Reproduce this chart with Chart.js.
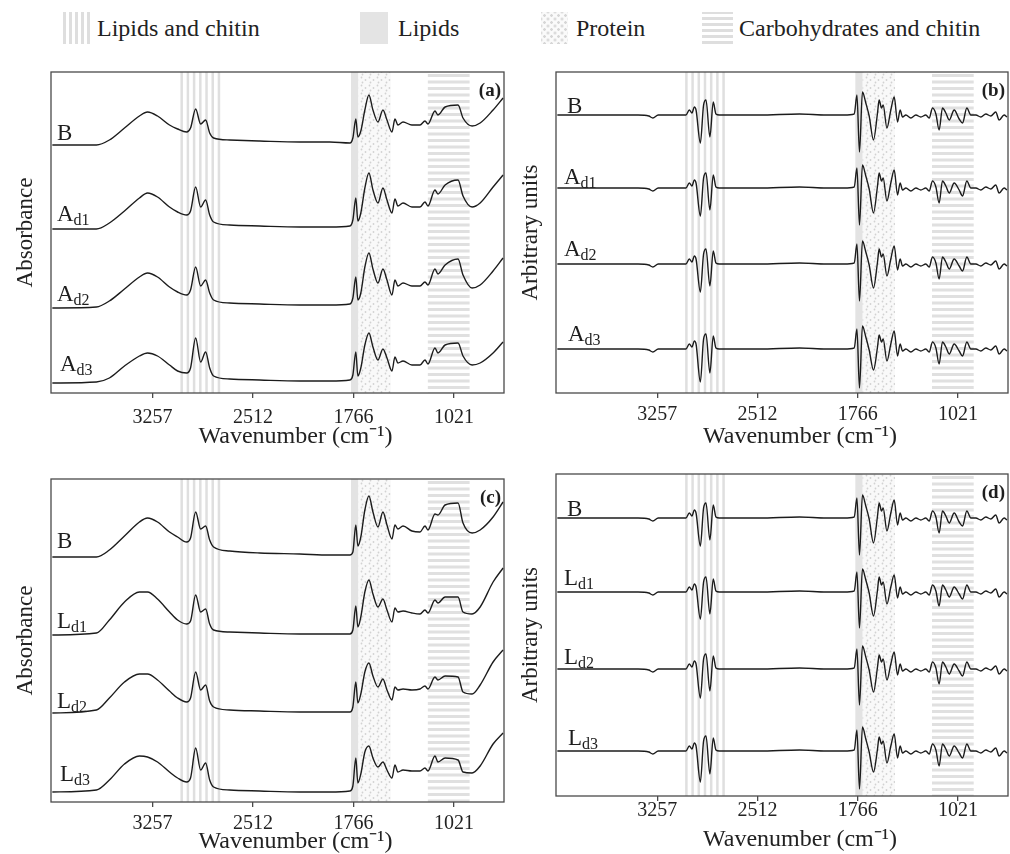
<!DOCTYPE html>
<html>
<head>
<meta charset="utf-8">
<script src="https://cdn.jsdelivr.net/npm/chart.js@4.4.1/dist/chart.umd.min.js"></script>
<style>
  body { margin: 0; background: #fff; width: 1010px; height: 854px; position: relative; overflow: hidden; font-family: "Liberation Serif", serif; color: #222; }
  canvas { position: absolute; }
  .icon { position: absolute; top: 12px; height: 32px; }
  .ltext { position: absolute; top: 14px; font-size: 24px; line-height: 28px; white-space: nowrap; }
  .vstripes { background: repeating-linear-gradient(90deg, #dedede 0 3px, #fff 3px 6px); }
  .solid { background: #e4e4e4; }
  .dots { background-color: #fafafa; background-image: radial-gradient(#d6d6d6 1px, transparent 1.6px), radial-gradient(#d6d6d6 1px, transparent 1.6px); background-size: 7px 7px; background-position: 0 0, 3.5px 3.5px; }
  .hstripes { background: repeating-linear-gradient(0deg, #dedede 0 3px, #fff 3px 6px); }
</style>
</head>
<body>
<div class="icon vstripes" style="left:63px;width:28px"></div>
<div class="ltext" style="left:97px">Lipids and chitin</div>
<div class="icon solid" style="left:360px;width:28px"></div>
<div class="ltext" style="left:398px">Lipids</div>
<div class="icon dots" style="left:541px;width:27px"></div>
<div class="ltext" style="left:576px">Protein</div>
<div class="icon hstripes" style="left:702px;width:31px"></div>
<div class="ltext" style="left:739px">Carbohydrates and chitin</div>

<canvas id="chartA" width="510" height="390" style="left:0;top:60px"></canvas>
<canvas id="chartB" width="505" height="390" style="left:505px;top:60px"></canvas>
<canvas id="chartC" width="510" height="404" style="left:0;top:450px"></canvas>
<canvas id="chartD" width="505" height="404" style="left:505px;top:450px"></canvas>

<script>
// x axis
const tickValues = [3257, 2512, 1766, 1021];
const xTitle = 'Wavenumber (cm\u207B\u00B9)';

// highlighted regions (cm-1)
const bandLipidChitin = [3050, 2755];
const bandLipids = [1785, 1730];
const bandProtein = [1730, 1490];
const bandCarbChitin = [1215, 905];

// absorbance spectra, stacked (panels a and c)
const absWavenumbers = [4000, 3673, 3577, 3465, 3354, 3294, 3220, 3131, 3071, 3004, 2975, 2937, 2900, 2863, 2833, 2804, 2685, 2462, 2165, 1942, 1793, 1771, 1749, 1734, 1712, 1682, 1652, 1622, 1585, 1548, 1518, 1481, 1459, 1437, 1399, 1333, 1273, 1236, 1214, 1162, 1140, 1087, 991, 954, 887, 827, 731, 657];

const absB_a  = [248, 248, 253, 265, 277, 281, 277, 268, 264, 261, 265, 284, 269, 273, 260, 255, 253, 252, 251, 251, 250, 255, 274, 256, 262, 283, 298, 283, 271, 283, 273, 261, 274, 268, 271, 268, 268, 272, 269, 282, 278, 286, 288, 275, 267, 270, 283, 295];
const absAd1 = [164, 164, 170, 182, 195, 200, 196, 186, 181, 178, 182, 206, 186, 193, 178, 171, 168, 167, 166, 166, 167, 173, 195, 172, 180, 205, 220, 203, 190, 205, 193, 180, 194, 187, 190, 186, 186, 191, 187, 203, 199, 208, 213, 197, 186, 190, 206, 218];
const absAd2 = [85, 86, 92, 104, 116, 120, 116, 106, 101, 98, 103, 126, 107, 113, 100, 93, 90, 89, 88, 88, 89, 95, 116, 93, 100, 126, 140, 124, 110, 124, 113, 98, 113, 107, 110, 107, 107, 111, 108, 124, 119, 128, 134, 118, 105, 108, 122, 135];
const absAd3 = [10, 11, 15, 27, 37, 40, 37, 28, 22, 20, 25, 55, 31, 41, 25, 17, 14, 13, 12, 12, 13, 18, 41, 17, 25, 48, 60, 46, 33, 44, 35, 22, 36, 30, 32, 28, 28, 33, 29, 45, 40, 48, 50, 37, 28, 30, 40, 51];

const absB_c  = [245, 245, 252, 266, 280, 284, 280, 270, 265, 260, 264, 290, 273, 276, 262, 255, 251, 249, 248, 247, 247, 250, 277, 256, 265, 292, 306, 290, 275, 290, 277, 263, 277, 273, 276, 271, 270, 276, 272, 288, 287, 297, 299, 279, 269, 272, 285, 300];
const absLd1 = [167, 169, 182, 200, 210, 210, 203, 190, 182, 178, 181, 207, 190, 193, 178, 172, 170, 169, 168, 168, 168, 172, 196, 175, 185, 210, 222, 208, 195, 203, 192, 180, 194, 190, 191, 189, 188, 192, 189, 202, 199, 205, 205, 190, 188, 195, 220, 234];
const absLd2 = [89, 92, 104, 120, 128, 128, 122, 111, 104, 100, 104, 130, 112, 117, 101, 95, 92, 91, 90, 90, 90, 95, 120, 99, 108, 130, 139, 126, 115, 123, 112, 102, 115, 112, 113, 112, 113, 116, 113, 125, 122, 126, 125, 110, 108, 117, 140, 152];
const absLd3 = [10, 12, 22, 38, 46, 45, 40, 30, 24, 20, 24, 54, 32, 39, 22, 15, 12, 11, 10, 10, 11, 16, 44, 19, 28, 50, 56, 44, 35, 40, 32, 24, 37, 30, 32, 31, 31, 34, 31, 46, 40, 44, 42, 30, 29, 36, 58, 69];

// second derivative spectra, stacked (panels b and d)
const derivWavenumbers = [4000, 3700, 3400, 3320, 3290, 3250, 3100, 3044, 3019, 2999, 2982, 2969, 2937, 2913, 2895, 2866, 2841, 2821, 2796, 2500, 2200, 2000, 1868, 1793, 1773, 1754, 1732, 1707, 1682, 1650, 1620, 1608, 1590, 1578, 1550, 1521, 1496, 1471, 1452, 1434, 1409, 1372, 1335, 1298, 1261, 1236, 1211, 1186, 1162, 1137, 1112, 1087, 1050, 1013, 988, 956, 926, 889, 852, 815, 778, 741, 716, 679, 657];

const derivB   = [278, 278, 278, 277, 275, 278, 278, 278, 283, 280, 286, 283, 250, 288, 293, 256, 291, 279, 278, 278, 279, 278, 278, 279, 298, 241, 301, 290, 277, 253, 280, 293, 285, 288, 265, 283, 296, 271, 283, 276, 278, 275, 278, 276, 278, 275, 285, 279, 263, 285, 280, 273, 283, 274, 270, 285, 278, 278, 276, 279, 277, 281, 273, 278, 276];
const derivAd1 = [205, 205, 205, 204, 202, 205, 205, 205, 210, 207, 213, 210, 177, 215, 220, 183, 218, 206, 205, 205, 206, 205, 205, 206, 225, 168, 228, 217, 204, 180, 207, 220, 212, 215, 192, 210, 223, 198, 210, 203, 205, 202, 205, 203, 205, 202, 212, 206, 190, 212, 207, 200, 210, 203, 197, 212, 205, 205, 203, 206, 204, 208, 200, 205, 203];
const derivAd2 = [129, 129, 129, 128, 126, 129, 129, 129, 134, 131, 137, 134, 101, 139, 144, 107, 142, 130, 129, 129, 130, 129, 129, 130, 149, 92, 152, 141, 128, 105, 131, 144, 136, 139, 117, 134, 147, 123, 134, 127, 129, 126, 129, 127, 129, 126, 136, 130, 114, 136, 131, 124, 134, 127, 122, 136, 129, 129, 127, 130, 128, 132, 124, 129, 127];
const derivAd3 = [44, 44, 44, 43, 41, 44, 44, 44, 49, 46, 52, 49, 11, 54, 59, 20, 57, 45, 44, 44, 45, 44, 44, 45, 64, 5, 67, 56, 43, 23, 46, 58, 51, 54, 32, 49, 62, 37, 49, 42, 44, 41, 44, 42, 44, 41, 51, 45, 29, 51, 46, 39, 49, 42, 37, 51, 44, 44, 42, 45, 43, 47, 39, 44, 42];
const derivLd1 = [204, 204, 204, 203, 201, 204, 204, 204, 209, 206, 212, 209, 177, 214, 219, 182, 217, 205, 204, 204, 205, 204, 204, 205, 224, 168, 227, 216, 203, 180, 206, 219, 211, 214, 192, 209, 221, 198, 209, 202, 204, 201, 204, 202, 204, 201, 211, 205, 190, 211, 206, 199, 209, 202, 197, 211, 204, 204, 202, 205, 203, 207, 199, 204, 202];
const derivLd2 = [127, 127, 127, 126, 124, 127, 127, 127, 132, 129, 135, 132, 98, 137, 142, 105, 140, 128, 127, 127, 128, 127, 127, 128, 147, 91, 150, 139, 126, 104, 129, 141, 134, 137, 116, 132, 144, 121, 132, 125, 127, 124, 127, 125, 127, 124, 134, 128, 112, 134, 129, 122, 132, 125, 120, 134, 127, 127, 125, 128, 126, 130, 122, 127, 125];
const derivLd3 = [45, 45, 45, 44, 42, 45, 45, 45, 50, 47, 53, 50, 14, 55, 60, 22, 58, 46, 45, 45, 46, 45, 45, 46, 66, 7, 69, 57, 44, 24, 47, 59, 52, 55, 33, 50, 62, 38, 50, 43, 45, 42, 45, 43, 45, 42, 52, 46, 30, 52, 47, 40, 50, 43, 38, 52, 45, 45, 43, 46, 44, 48, 40, 45, 43];

// sample names
const namesA = ['B', 'A', 'A', 'A'];
const namesL = ['B', 'L', 'L', 'L'];
const subs = ['', 'd1', 'd2', 'd3'];

Chart.defaults.font.family = '"Liberation Serif", serif';
Chart.defaults.color = '#222';

function dotPattern(ctx) {
    const c = document.createElement('canvas');
    c.width = 8; c.height = 8;
    const g = c.getContext('2d');
    g.fillStyle = '#f9f9f9';
    g.fillRect(0, 0, 8, 8);
    g.fillStyle = '#d2d2d2';
    [[1.5, 1.5], [5.5, 4], [2.5, 6.5]].forEach(p => {
        g.beginPath(); g.arc(p[0], p[1], 0.9, 0, Math.PI * 2); g.fill();
    });
    return ctx.createPattern(c, 'repeat');
}

const bandsPlugin = {
    id: 'bands',
    beforeDatasetsDraw(chart) {
        const {ctx, chartArea: a, scales: {x}} = chart;
        ctx.save();
        ctx.beginPath();
        ctx.rect(a.left, a.top, a.width, a.height);
        ctx.clip();

        // lipids and chitin: vertical stripes
        let x0 = x.getPixelForValue(bandLipidChitin[0]);
        let x1 = x.getPixelForValue(bandLipidChitin[1]);
        ctx.fillStyle = '#dfdfdf';
        for (let i = 0; i < 7; i++) {
            ctx.fillRect(x0 + i * (x1 - x0 - 2.5) / 6, a.top, 2.5, a.height);
        }

        // lipids: solid
        x0 = x.getPixelForValue(bandLipids[0]);
        x1 = x.getPixelForValue(bandLipids[1]);
        ctx.fillStyle = '#e3e3e3';
        ctx.fillRect(x0, a.top, x1 - x0, a.height);

        // protein: dots
        x0 = x.getPixelForValue(bandProtein[0]);
        x1 = x.getPixelForValue(bandProtein[1]);
        ctx.fillStyle = dotPattern(ctx);
        ctx.fillRect(x0, a.top, x1 - x0, a.height);

        // carbohydrates and chitin: horizontal stripes
        x0 = x.getPixelForValue(bandCarbChitin[0]);
        x1 = x.getPixelForValue(bandCarbChitin[1]);
        ctx.fillStyle = '#e0e0e0';
        for (let y = a.top + 2; y < a.bottom; y += 6.5) {
            ctx.fillRect(x0, y, x1 - x0, 3);
        }
        ctx.restore();
    }
};

const labelsPlugin = {
    id: 'sampleLabels',
    afterDatasetsDraw(chart, args, opts) {
        const {ctx, chartArea: a, scales: {y}} = chart;
        ctx.save();
        ctx.fillStyle = '#1e1e1e';
        ctx.textBaseline = 'alphabetic';
        opts.names.forEach((name, i) => {
            const px = a.left + opts.dx[i];
            const py = y.getPixelForValue(chart.data.datasets[i].data[0].y) - opts.lift[i] + 7.5;
            ctx.textAlign = 'left';
            ctx.font = '23px "Liberation Serif"';
            ctx.fillText(name, px, py);
            if (subs[i]) {
                const w = ctx.measureText(name).width;
                ctx.font = '16px "Liberation Serif"';
                ctx.fillText(subs[i], px + w, py + 4);
            }
        });
        // panel letter
        ctx.textBaseline = 'middle';
        ctx.font = 'bold 19px "Liberation Serif"';
        ctx.textAlign = 'right';
        ctx.fillText(opts.letter, a.right - 3, a.top + 19);
        // x axis title, set a little right of centre as in the source figure
        ctx.font = '24px "Liberation Serif"';
        ctx.textAlign = 'center';
        ctx.fillStyle = '#222';
        ctx.fillText(xTitle, (a.left + a.right) / 2 + 18, a.bottom + opts.titleGap);
        ctx.restore();
    }
};

const framePlugin = {
    id: 'frame',
    afterDraw(chart) {
        const {ctx, chartArea: a} = chart;
        ctx.save();
        ctx.strokeStyle = '#4a4a4a';
        ctx.lineWidth = 1.3;
        ctx.strokeRect(a.left, a.top, a.width, a.height);
        ctx.restore();
    }
};

function buildChart(id, cfg) {
    const datasets = cfg.series.map(s => ({
        data: cfg.xs.map((v, i) => ({x: v, y: s[i]})),
        borderColor: '#1c1c1c',
        borderWidth: 1.4,
        pointRadius: 0,
        fill: false,
        cubicInterpolationMode: 'monotone'
    }));
    return new Chart(document.getElementById(id), {
        type: 'line',
        data: {datasets: datasets},
        options: {
            responsive: false,
            animation: false,
            layout: {padding: cfg.padding},
            scales: {
                x: {
                    type: 'linear',
                    reverse: true,
                    min: 650,
                    max: 4010,
                    grid: {display: true, drawOnChartArea: false, drawTicks: true, tickLength: 5, color: '#4a4a4a', lineWidth: 1.3},
                    border: {display: false},
                    afterBuildTicks: s => { s.ticks = tickValues.map(v => ({value: v})); },
                    afterFit: s => { s.height = cfg.xHeight; },
                    ticks: {
                        padding: cfg.tickPad,
                        font: {size: 20},
                        color: '#222',
                        autoSkip: false,
                        maxRotation: 0,
                        callback: v => String(v)
                    },
                    title: {display: false}
                },
                y: {
                    min: 0,
                    max: cfg.yMax,
                    grid: {display: false, drawTicks: false},
                    border: {display: false},
                    ticks: {display: false},
                    afterFit: s => { s.width = 51; },
                    title: {
                        display: true,
                        text: cfg.yTitle,
                        font: {size: 23},
                        color: '#222',
                        padding: {top: 12, bottom: 0}
                    }
                }
            },
            plugins: {
                legend: {display: false},
                tooltip: {enabled: false},
                sampleLabels: {names: cfg.names, dx: cfg.dx, lift: cfg.lift, letter: cfg.letter, titleGap: cfg.titleGap}
            }
        },
        plugins: [bandsPlugin, labelsPlugin, framePlugin]
    });
}

buildChart('chartA', {
    xs: absWavenumbers, series: [absB_a, absAd1, absAd2, absAd3],
    padding: {top: 12, right: 6, left: 0, bottom: 0}, xHeight: 57, tickPad: 8, yMax: 321, titleGap: 44,
    yTitle: 'Absorbance', names: namesA, dx: [6, 6, 6, 9], lift: [13, 16, 15, 20], letter: '(a)'
});
buildChart('chartB', {
    xs: derivWavenumbers, series: [derivB, derivAd1, derivAd2, derivAd3],
    padding: {top: 12, right: 2, left: 0, bottom: 0}, xHeight: 57, tickPad: 5, yMax: 321, titleGap: 44,
    yTitle: 'Arbitrary units', names: namesA, dx: [11, 8, 8, 12], lift: [10, 12, 16, 16], letter: '(b)'
});
buildChart('chartC', {
    xs: absWavenumbers, series: [absB_c, absLd1, absLd2, absLd3],
    padding: {top: 29, right: 6, left: 0, bottom: 0}, xHeight: 52, tickPad: 5, yMax: 323, titleGap: 40,
    yTitle: 'Absorbance', names: namesL, dx: [6, 6, 6, 9], lift: [17, 15, 13, 19], letter: '(c)'
});
buildChart('chartD', {
    xs: derivWavenumbers, series: [derivB, derivLd1, derivLd2, derivLd3],
    padding: {top: 24, right: 2, left: 0, bottom: 0}, xHeight: 58, tickPad: -2, yMax: 322, titleGap: 44,
    yTitle: 'Arbitrary units', names: namesL, dx: [11, 8, 8, 12], lift: [10, 15, 13, 14], letter: '(d)'
});
</script>
</body>
</html>
